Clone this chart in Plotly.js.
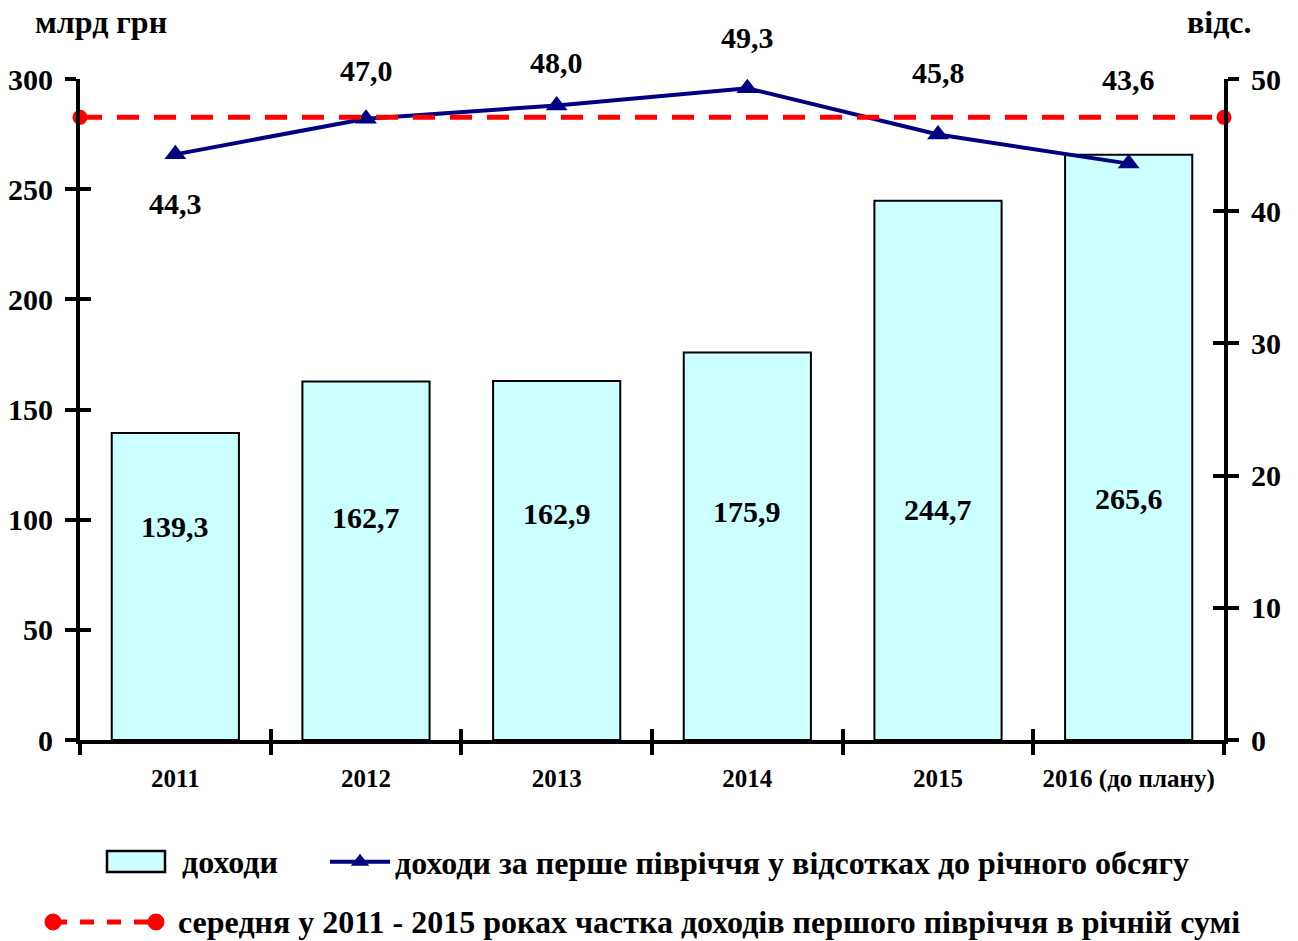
<!DOCTYPE html>
<html>
<head>
<meta charset="utf-8">
<script src="https://cdn.plot.ly/plotly-3.0.1.min.js"></script>
<style>html,body{margin:0;padding:0;background:#fff;}#chart{width:1298px;height:941px;}</style>
</head>
<body>
<div id="chart"></div>
<script>
// ---- data ----
var years = ['2011', '2012', '2013', '2014', '2015', '2016 (до плану)'];
var incomes = [139.3, 162.7, 162.9, 175.9, 244.7, 265.6];           // млрд грн
var firstHalfShare = [44.3, 47.0, 48.0, 49.3, 45.8, 43.6];           // відс.
var averageShare = 47.1;                                             // відс.
var incomeLabels = ['139,3', '162,7', '162,9', '175,9', '244,7', '265,6'];
var shareLabels = ['44,3', '47,0', '48,0', '49,3', '45,8', '43,6'];
var seriesNames = ['доходи', 'доходи за перше півріччя у відсотках до річного обсягу',
  'середня у 2011 - 2015 роках частка доходів першого півріччя в річній сумі'];

// label placement (data units / pixels), not data
var barLabelLevel = [96.7, 101.2, 103.0, 103.5, 104.8, 109.4];
var lineLabelShift = [-49, 48, 43, 51, 62, 84];

var FONT = 'Liberation Serif, Times New Roman, serif';
var idx = years.map(function (_, i) { return i; });

var RED = '#FF0000', NAVY = '#000080', CYAN = '#CCFFFF';

var traces = [
  {
    type: 'bar', x: years, y: incomes, name: seriesNames[0],
    width: 0.667,
    marker: {color: CYAN, line: {color: '#000000', width: 2}},
    xaxis: 'x', yaxis: 'y', showlegend: false
  },
  {
    type: 'scatter', mode: 'lines', x: [0, years.length], y: [averageShare, averageShare],
    name: seriesNames[2],
    line: {color: RED, width: 5, dash: '22px,15px'},
    xaxis: 'x2', yaxis: 'y2', showlegend: false, cliponaxis: false
  },
  {
    type: 'scatter', mode: 'markers', x: [0, years.length], y: [averageShare, averageShare],
    name: seriesNames[2],
    marker: {symbol: 'circle', size: 15, color: RED},
    xaxis: 'x2', yaxis: 'y2', showlegend: false, cliponaxis: false
  },
  {
    type: 'scatter', mode: 'lines+markers', x: years, y: firstHalfShare, name: seriesNames[1],
    line: {color: NAVY, width: 4},
    marker: {symbol: 'triangle-up', size: 19, color: NAVY},
    xaxis: 'x', yaxis: 'y2', legend: 'legend'
  },
  // invisible helpers so the overlay tick axes render
  {type: 'scatter', x: [0], y: [0], xaxis: 'x2', yaxis: 'y3', showlegend: false,
    mode: 'markers', marker: {opacity: 0}, hoverinfo: 'skip'},
  {type: 'scatter', x: [0], y: [0], xaxis: 'x2', yaxis: 'y4', showlegend: false,
    mode: 'markers', marker: {opacity: 0}, hoverinfo: 'skip'}
];

var labelFont = {family: FONT, size: 30, color: '#000', weight: 'bold'};
var annotations = [];
for (var i = 0; i < years.length; i++) {
  annotations.push({
    x: idx[i], y: barLabelLevel[i], xref: 'x', yref: 'y', text: incomeLabels[i],
    showarrow: false, font: labelFont
  });
  annotations.push({
    x: idx[i], y: firstHalfShare[i], xref: 'x', yref: 'y2', text: shareLabels[i],
    showarrow: false, yshift: lineLabelShift[i], font: labelFont
  });
}
var titleFont = {family: FONT, size: 32, color: '#000', weight: 'bold'};
annotations.push({
  xref: 'paper', yref: 'paper', x: 0, y: 1.0, xshift: -47, yshift: 57, xanchor: 'left', yanchor: 'middle',
  text: 'млрд грн', showarrow: false, font: titleFont
});
annotations.push({
  xref: 'paper', yref: 'paper', x: 1.0, y: 1.0, xshift: 30, yshift: 57, xanchor: 'right', yanchor: 'middle',
  text: 'відс.', showarrow: false, font: titleFont
});

// legend entries drawn by hand (bars box, red dashed line with end dots)
var legFont = {family: FONT, size: 32, color: '#000', weight: 'bold'};
annotations.push({
  xref: 'paper', yref: 'paper', x: 0, y: 0, xshift: 100, yshift: -122, xanchor: 'left', yanchor: 'middle',
  text: seriesNames[0], showarrow: false, font: legFont
});
annotations.push({
  xref: 'paper', yref: 'paper', x: 0, y: 0, xshift: 96, yshift: -182, xanchor: 'left', yanchor: 'middle',
  text: seriesNames[2], showarrow: false, font: legFont
});

function pxShape(o) {
  var s = {xref: 'paper', yref: 'paper', xsizemode: 'pixel', ysizemode: 'pixel', xanchor: 0, yanchor: 0};
  for (var k in o) s[k] = o[k];
  return s;
}
var shapes = [
  pxShape({type: 'rect', x0: 27, x1: 85, y0: -111, y1: -132, fillcolor: CYAN, line: {color: '#000', width: 2.5}}),
  pxShape({type: 'line', x0: -27, x1: 76, y0: -182, y1: -182, line: {color: RED, width: 5, dash: '14px,13px'}}),
  pxShape({type: 'circle', x0: -35, x1: -19, y0: -174, y1: -190, fillcolor: RED, line: {color: RED, width: 1}}),
  pxShape({type: 'circle', x0: 68, x1: 84, y0: -174, y1: -190, fillcolor: RED, line: {color: RED, width: 1}})
];

var tickFont = {family: FONT, size: 30, color: '#000', weight: 'bold'};

var layout = {
  width: 1298, height: 941,
  margin: {l: 80, r: 74, t: 79, b: 201, autoexpand: false},
  paper_bgcolor: '#fff', plot_bgcolor: '#fff',
  showlegend: true,
  xaxis: {
    type: 'category', categoryorder: 'array', categoryarray: years,
    range: [-0.5, years.length - 0.5], autorange: false,
    showline: true, linecolor: '#000', linewidth: 4,
    ticks: 'outside', tickson: 'boundaries', ticklen: 11, tickwidth: 4, tickcolor: '#000',
    showgrid: false, zeroline: false, tickangle: 0,
    tickfont: {family: FONT, size: 25, color: '#000', weight: 'bold'},
    ticklabelstandoff: 13
  },
  xaxis2: {
    overlaying: 'x', range: [0, years.length], autorange: false, dtick: 1, tick0: 0,
    ticks: 'inside', ticklen: 11, tickwidth: 4, tickcolor: '#000',
    showticklabels: false, showgrid: false, zeroline: false, showline: false, side: 'bottom'
  },
  yaxis: {
    range: [0, 300], autorange: false, dtick: 50, showline: true, linecolor: '#000', linewidth: 4,
    ticks: 'outside', ticklen: 11, tickwidth: 4, tickcolor: '#000',
    showgrid: false, zeroline: false, tickfont: tickFont, ticklabelstandoff: 6
  },
  yaxis3: {
    overlaying: 'y', range: [0, 300], autorange: false, dtick: 50, side: 'left',
    ticks: 'inside', ticklen: 11, tickwidth: 4, tickcolor: '#000',
    showticklabels: false, showgrid: false, zeroline: false, showline: false
  },
  yaxis2: {
    overlaying: 'y', side: 'right', range: [0, 50], autorange: false, dtick: 10,
    showline: true, linecolor: '#000', linewidth: 4,
    ticks: 'outside', ticklen: 11, tickwidth: 4, tickcolor: '#000',
    showgrid: false, zeroline: false, tickfont: tickFont, ticklabelstandoff: 6
  },
  yaxis4: {
    overlaying: 'y', side: 'right', range: [0, 50], autorange: false, dtick: 10,
    ticks: 'inside', ticklen: 11, tickwidth: 4, tickcolor: '#000',
    showticklabels: false, showgrid: false, zeroline: false, showline: false
  },
  legend: {
    orientation: 'h', xref: 'container', yref: 'container',
    x: 325 / 1298, y: 1 - 862 / 941, xanchor: 'left', yanchor: 'middle',
    font: legFont, itemwidth: 60, bgcolor: 'rgba(0,0,0,0)', borderwidth: 0
  },
  annotations: annotations,
  shapes: shapes
};

Plotly.newPlot('chart', traces, layout, {displayModeBar: false, staticPlot: true});
</script>
</body>
</html>
